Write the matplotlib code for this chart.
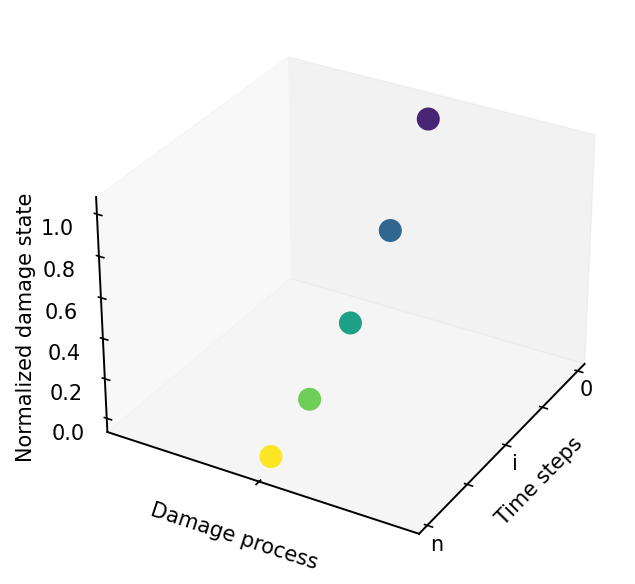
import numpy as np
import matplotlib
matplotlib.use('Agg')
import matplotlib.pyplot as plt

# damage state at each time step
damage_x = [0.99, 1.0, 1.0, 1.0, 1.0]
time_steps = [0, 0.25, 0.5, 0.75, 0.98]
damage_state = [0.99, 0.6, 0.31, 0.11, 0.0]
colors = [0.1, 0.33, 0.57, 0.78, 1.0]

y_ticks = [0, 0.25, 0.5, 0.75, 1.0]
y_labels = ['0', '', 'i', '', 'n']
z_ticks = [0.0, 0.2, 0.4, 0.6, 0.8, 1.0]

fig = plt.figure(figsize=(6.35, 5.84), dpi=100)
ax = fig.add_axes([0.066, 0.026, 0.948, 0.95], projection='3d')
ax.scatter(damage_x, time_steps, damage_state, c=colors, cmap='viridis', vmin=0, vmax=1,
           s=275, depthshade=False, alpha=1, linewidths=0)

ax.set_xticks([1])
ax.set_xticklabels([''])
ax.set_yticks(y_ticks)
ax.set_yticklabels(y_labels)
ax.set_zticks(z_ticks)
ax.set_xlim(0, 2)
ax.set_ylim(1.05, -0.05)
ax.set_zlim(-0.07, 1.08)
ax.tick_params(labelsize=15)
ax.tick_params(axis='z', pad=8)
ax.tick_params(axis='y', pad=-2)
ax.set_xlabel('Damage process', fontsize=15, labelpad=7)
ax.set_ylabel('Time steps', fontsize=15, labelpad=2)
ax.zaxis.set_rotate_label(False)
ax.set_zlabel('Normalized damage state', fontsize=15, labelpad=10, rotation=90)
ax.grid(False)

# z axis on the left side
ax.zaxis._axinfo['juggled'] = (1, 2, 0)

for axis in (ax.xaxis, ax.yaxis, ax.zaxis):
    axis.line.set_linewidth(1.4)
    axis._axinfo['tick']['linewidth'] = {True: 1.2, False: 1.0}

fig.savefig('out.png', dpi=100)
